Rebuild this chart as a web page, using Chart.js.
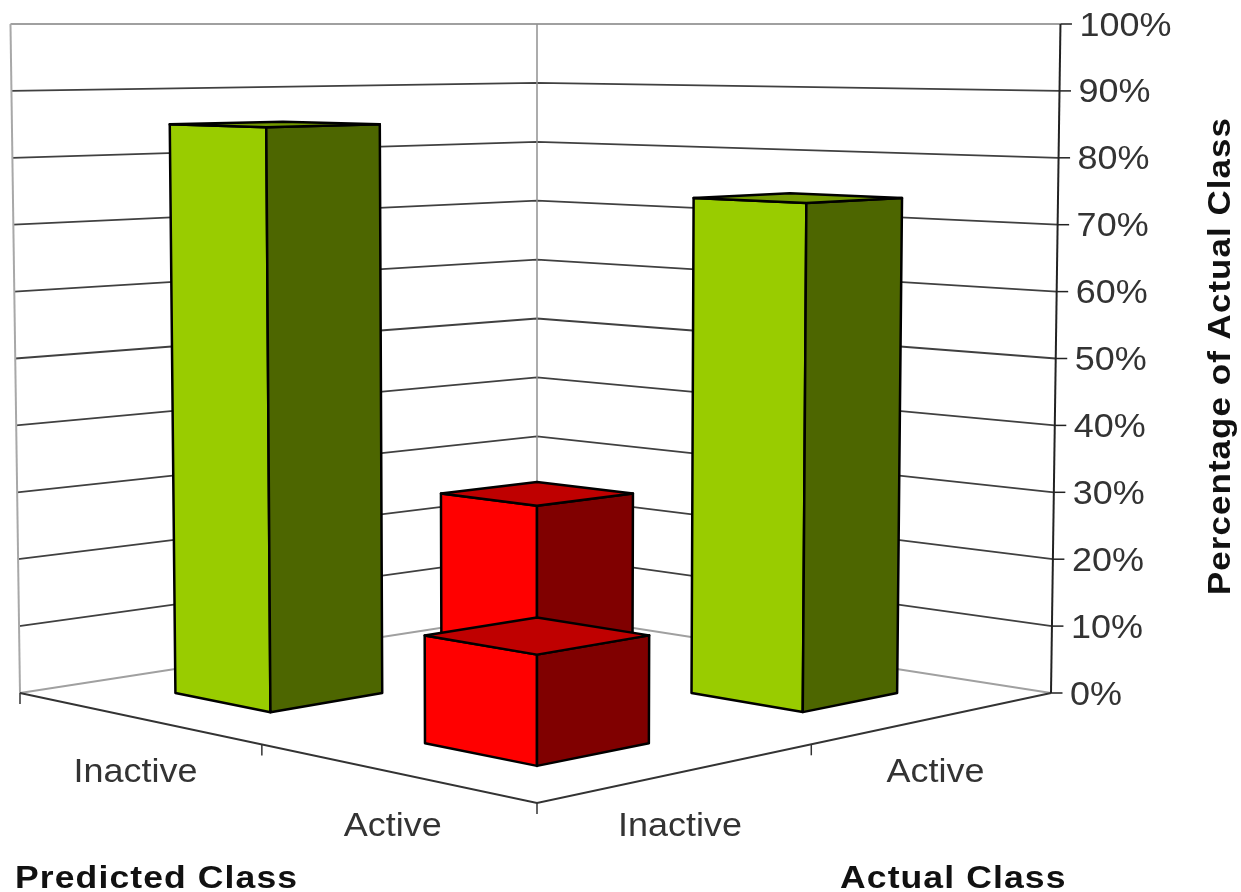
<!DOCTYPE html>
<html>
<head>
<meta charset="utf-8">
<title>Predicted vs Actual Class</title>
<script src="https://cdn.jsdelivr.net/npm/chart.js@4"></script>
<style>
    html, body { margin: 0; padding: 0; background: #fff; }
    canvas { display: block; }
</style>
</head>
<body>
<canvas id="confusionChart" width="1241" height="892"></canvas>
<script>
const predictedLabels = ["Inactive", "Active"];
const actualLabels = ["Inactive", "Active"];
const actualInactive = [85, 15];
const actualActive = [25, 74];
const percentTicks = [0, 10, 20, 30, 40, 50, 60, 70, 80, 90, 100];

const TICK_FONT = "33px 'Liberation Sans'";
const TITLE_FONT = "bold 32px 'Liberation Sans'";
const BAR_HALF = 0.1;

const greenFaces = { left: "#99cc00", right: "#4d6600", top: "#739900" };
const redFaces = { left: "#ff0000", right: "#800000", top: "#bf0000" };

// Floor is a square (u runs along predicted, v along actual) seen in perspective
function makeProjection(chart) {
    const area = chart.chartArea;
    const yScale = chart.scales.y;
    const midX = (area.left + area.right) / 2 + 1;
    const L = [area.left + 9, area.bottom];
    const F = [midX, area.bottom + 110];
    const R = [area.right - 10, area.bottom];
    const B = [midX, area.bottom - 80];

    const sx = L[0] - F[0] + R[0] - B[0];
    const sy = L[1] - F[1] + R[1] - B[1];
    const d1x = F[0] - R[0], d1y = F[1] - R[1];
    const d2x = B[0] - R[0], d2y = B[1] - R[1];
    const det = d1x * d2y - d2x * d1y;
    const g = (sx * d2y - d2x * sy) / det;
    const h = (d1x * sy - sx * d1y) / det;

    const y0 = yScale.getPixelForValue(yScale.min);
    const yTop = yScale.getPixelForValue(yScale.max);

    return function (u, v, value) {
        const w = g * u + h * v + 1;
        const x = (L[0] + (F[0] * (1 + g) - L[0]) * u + (B[0] * (1 + h) - L[0]) * v) / w;
        const y = (L[1] + (F[1] * (1 + g) - L[1]) * u + (B[1] * (1 + h) - L[1]) * v) / w;
        // every vertical rises towards the eye line at the top of the axis
        const frac = (y0 - yScale.getPixelForValue(value)) / (y0 - yTop);
        return [x + (x - midX) * 0.0184 * frac, y + (yTop - y) * frac];
    };
}

function line(ctx, points, color, width) {
    ctx.beginPath();
    points.forEach((p, i) => (i ? ctx.lineTo(p[0], p[1]) : ctx.moveTo(p[0], p[1])));
    ctx.strokeStyle = color;
    ctx.lineWidth = width;
    ctx.stroke();
}

function face(ctx, points, fill) {
    ctx.beginPath();
    points.forEach((p, i) => (i ? ctx.lineTo(p[0], p[1]) : ctx.moveTo(p[0], p[1])));
    ctx.closePath();
    ctx.fillStyle = fill;
    ctx.fill();
    ctx.strokeStyle = "#000";
    ctx.lineWidth = 2.5;
    ctx.lineJoin = "round";
    ctx.stroke();
}

// The labels use a slightly widened Arial-style face
function wideText(ctx, text, x, y, widen, angle) {
    ctx.save();
    ctx.translate(x, y);
    if (angle) ctx.rotate(angle);
    ctx.scale(widen, 1);
    ctx.fillText(text, 0, 0);
    ctx.restore();
}

function drawBox(ctx, project, u, v, value, colors) {
    const s = BAR_HALF;
    const corner = (du, dv, val) => project(u + du * s, v + dv * s, val);
    face(ctx, [corner(-1, -1, 0), corner(1, -1, 0), corner(1, -1, value), corner(-1, -1, value)], colors.left);
    face(ctx, [corner(1, -1, 0), corner(1, 1, 0), corner(1, 1, value), corner(1, -1, value)], colors.right);
    face(ctx, [corner(-1, -1, value), corner(1, -1, value), corner(1, 1, value), corner(-1, 1, value)], colors.top);
}

const walls3d = {
    id: "walls3d",
    beforeDatasetsDraw(chart) {
        const ctx = chart.ctx;
        const project = makeProjection(chart);
        const yScale = chart.scales.y;
        ctx.save();

        // back walls and their gridlines
        yScale.ticks.forEach((tick) => {
            const soft = tick.value === yScale.min || tick.value === yScale.max;
            line(ctx, [project(0, 0, tick.value), project(0, 1, tick.value), project(1, 1, tick.value)],
                soft ? "#a0a0a0" : "#404040", 1.8);
        });
        line(ctx, [project(0, 0, 0), project(0, 0, 100)], "#a8a8a8", 2);
        line(ctx, [project(0, 1, 0), project(0, 1, 100)], "#909090", 1.5);

        // front edges of the floor and their tick marks
        line(ctx, [project(0, 0, 0), project(1, 0, 0), project(1, 1, 0)], "#333", 1.8);
        [[0, 0], [0.51, 0], [1, 0], [1, 0.49]].forEach((c) => {
            const p = project(c[0], c[1], 0);
            line(ctx, [p, [p[0], p[1] + 11]], "#333", 1.5);
        });

        // value axis leans with the perspective, so its marks and labels are placed from the projection
        const axisBottom = project(1, 1, 0);
        const axisTop = project(1, 1, 100);
        line(ctx, [axisTop, axisBottom], "#222", 2);
        ctx.font = TICK_FONT;
        ctx.textAlign = "left";
        ctx.textBaseline = "alphabetic";
        ctx.fillStyle = "#333";
        yScale.ticks.forEach((tick) => {
            const p = project(1, 1, tick.value);
            line(ctx, [p, [p[0] + 11.5, p[1]]], "#222", 1.5);
            wideText(ctx, tick.label, p[0] + 19, p[1] + 11.5, 1.09);
        });

        // category labels sit under the front floor edges
        ctx.textAlign = "center";
        predictedLabels.forEach((label, i) => {
            const p = project(0.25 + i * 0.5, 0, 0);
            wideText(ctx, label, p[0] + 2, p[1] + 64.5, 1.09);
        });
        actualLabels.forEach((label, i) => {
            const p = project(1, 0.25 + i * 0.5, 0);
            wideText(ctx, label, p[0] - 3, p[1] + 64.5, 1.09);
        });

        // axis titles
        ctx.font = TITLE_FONT;
        ctx.letterSpacing = "1px";
        ctx.fillStyle = "#111";
        ctx.textAlign = "left";
        wideText(ctx, "Predicted Class", 15, 888, 1.11);
        wideText(ctx, "Actual Class", 840, 888, 1.11);
        wideText(ctx, "Percentage of Actual Class", 1230, 595, 1.09, -Math.PI / 2);

        ctx.restore();
    },
    afterDatasetsDraw(chart) {
        const ctx = chart.ctx;
        const project = makeProjection(chart);
        const boxes = [];
        chart.data.datasets.forEach((dataset, v) => {
            dataset.data.forEach((value, u) => {
                boxes.push({ u: 0.25 + u * 0.5, v: 0.25 + v * 0.5, value: value, colors: u === v ? greenFaces : redFaces });
            });
        });
        // far boxes first so the nearer ones cover them
        boxes.sort((a, b) => (b.v - b.u) - (a.v - a.u));
        ctx.save();
        boxes.forEach((b) => drawBox(ctx, project, b.u, b.v, b.value, b.colors));
        ctx.restore();
    },
};

new Chart(document.getElementById("confusionChart").getContext("2d"), {
    type: "bar",
    data: {
        labels: predictedLabels,
        datasets: [
            { label: actualLabels[0], data: actualInactive, backgroundColor: "rgba(0,0,0,0)" },
            { label: actualLabels[1], data: actualActive, backgroundColor: "rgba(0,0,0,0)" },
        ],
    },
    options: {
        responsive: false,
        animation: false,
        layout: { padding: { top: 24, bottom: 199, left: 11, right: 0 } },
        plugins: { legend: { display: false }, tooltip: { enabled: false } },
        scales: {
            x: { display: false },
            y: {
                position: "right",
                min: percentTicks[0],
                max: percentTicks[percentTicks.length - 1],
                grid: { display: false },
                border: { display: false },
                ticks: { stepSize: 10, display: false, callback: (v) => v + "%" },
                afterFit: (scale) => { scale.width = 180; },
            },
        },
    },
    plugins: [walls3d],
});
</script>
</body>
</html>
